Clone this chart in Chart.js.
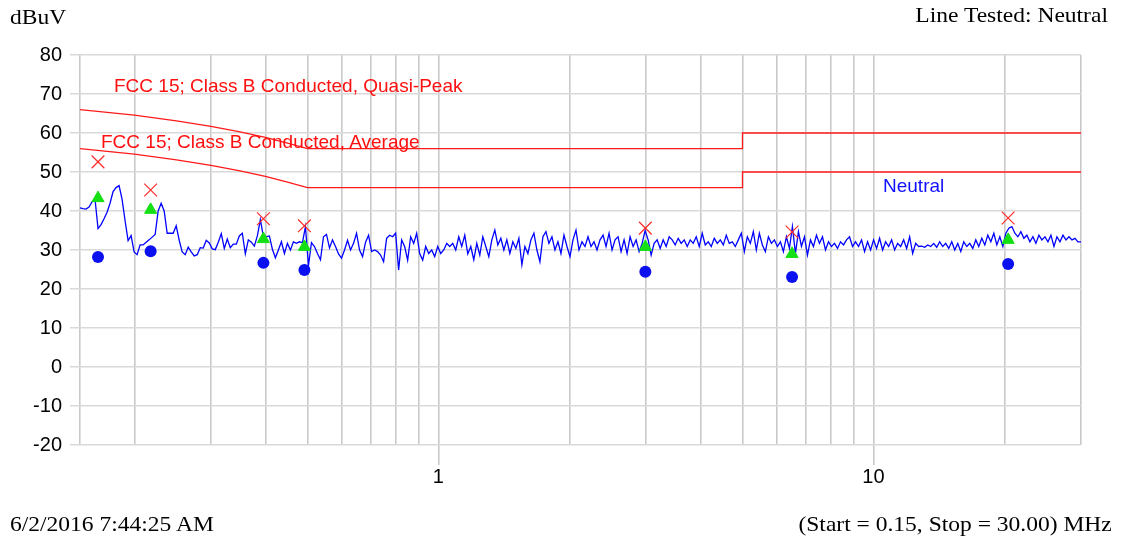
<!DOCTYPE html>
<html>
<head>
<meta charset="utf-8">
<script src="https://cdn.jsdelivr.net/npm/chart.js@4.4.1/dist/chart.umd.min.js"></script>
<style>
  html, body { margin: 0; padding: 0; background: #fff; }
  #wrap { position: relative; width: 1121px; height: 540px; overflow: hidden; }
  #chart { position: absolute; left: 0; top: 0; }
  .serif { position: absolute; font-family: "Liberation Serif", "Times New Roman", serif; font-size: 21px; line-height: 21px; color: #000; white-space: nowrap; }
  .lbl { position: absolute; font-family: "Liberation Sans", Arial, sans-serif; font-size: 19px; line-height: 19px; white-space: nowrap; }
</style>
</head>
<body>
<div id="wrap">
  <canvas id="chart" width="1121" height="540"></canvas>
  <div class="serif" style="left:10px; top:7px; transform:scaleX(1.12); transform-origin:left center;">dBuV</div>
  <div class="serif" style="right:13px; top:5px; transform:scaleX(1.12); transform-origin:right center;">Line Tested: Neutral</div>
  <div class="serif" style="left:10px; top:514px; transform:scaleX(1.12); transform-origin:left center;">6/2/2016 7:44:25 AM</div>
  <div class="serif" style="right:9px; top:514px; transform:scaleX(1.12); transform-origin:right center;">(Start = 0.15, Stop = 30.00) MHz</div>
  <div class="lbl" style="left:114px; top:76px; color:#ff1010;">FCC 15; Class B Conducted, Quasi-Peak</div>
  <div class="lbl" style="left:101px; top:132px; color:#ff1010;">FCC 15; Class B Conducted, Average</div>
  <div class="lbl" style="left:883px; top:176px; color:#1010ff;">Neutral</div>
</div>
<script>
// ---- data ----
const sweepStartMHz = 0.15;
const sweepStopMHz = 30;

const freqGridTicks = [0.15, 0.2, 0.3, 0.4, 0.5, 0.6, 0.7, 0.8, 0.9, 1, 2, 3, 4, 5, 6, 7, 8, 9, 10, 20, 30];
const labelledFreqTicks = [1, 10];
const levelTicks = [-20, -10, 0, 10, 20, 30, 40, 50, 60, 70, 80];

// Neutral line scan, dBuV, points spread evenly (log) from start to stop
const neutralLevel = [
  40.8,40.6,40.5,41.0,42.3,43.0,35.5,36.5,38.0,39.7,
  42.0,45.0,46.0,46.5,43.0,37.5,32.4,33.7,29.5,28.8,
  31.3,31.3,32.0,32.6,33.3,34.0,40.0,42.0,40.0,34.3,
  34.3,34.3,36.2,32.5,29.5,28.8,30.7,29.5,28.5,28.8,
  30.6,30.5,32.5,31.8,30.3,30.1,32.0,34.2,30.4,32.8,
  30.6,31.5,31.5,33.6,34.3,29.0,32.6,32.0,31.0,33.6,
  37.8,33.5,33.4,33.6,30.2,28.0,30.0,
  32.1,29.1,31.7,30.0,32.1,31.7,32.1,31.9,36.0,26.0,
  31.9,30.9,29.1,27.5,33.4,34.0,30.5,32.6,30.9,29.0,
  27.9,30.0,32.5,30.0,31.7,34.3,30.0,28.3,32.0,33.8,
  29.6,30.0,29.6,28.7,27.0,33.0,33.8,33.4,34.3,24.9,
  32.6,30.9,27.4,33.4,31.7,34.3,29.1,27.4,30.9,29.1,
  30.0,28.3,30.9,29.1,30.0,31.7,30.9,31.7,30.0,33.4,
  30.9,33.8,29.0,30.9,27.5,
  31.7,28.7,33.4,30.9,28.3,32.6,35.1,31.3,33.0,30.0,
  32.6,29.1,32.1,30.4,33.0,26.2,30.9,29.1,32.6,34.3,
  30.0,27.0,33.4,34.7,31.7,33.4,30.0,32.1,29.1,33.8,
  30.9,28.3,32.6,35.1,30.0,32.1,30.9,33.4,30.9,32.1,
  30.0,32.6,33.8,30.9,34.3,30.0,32.6,33.4,29.6,32.6,
  29.1,33.4,30.9,32.6,29.6,31.7,35.0,32.6,28.7,31.7,
  32.6,30.4,32.6,30.9,33.4,
  32.6,31.3,33.0,31.7,32.6,30.9,32.6,31.7,33.4,30.9,
  34.3,31.3,32.1,30.9,33.0,31.7,32.6,31.3,33.8,31.7,
  32.1,30.9,32.6,34.3,29.6,33.4,31.7,34.7,30.0,34.3,
  31.3,29.6,33.4,31.7,32.6,30.9,32.1,29.6,33.4,30.4,
  36.0,29.1,34.7,30.9,33.4,28.7,32.6,30.9,33.8,31.7,
  33.4,30.0,32.1,30.9,31.7,30.4,32.1,31.3,32.6,33.4,
  30.9,32.1,30.9,32.6,29.6,
  32.1,30.0,32.6,30.4,33.0,30.0,32.1,30.9,32.6,30.0,
  31.7,30.9,32.6,30.4,33.4,29.1,31.7,30.9,31.0,30.7,
  31.3,30.9,31.7,30.7,32.1,30.9,31.7,30.4,32.1,30.0,
  31.7,29.6,32.1,30.9,31.7,30.4,32.6,30.9,33.0,31.3,
  33.8,32.1,34.3,31.3,33.4,30.9,34.3,35.6,36.0,34.3,
  33.4,34.7,33.0,33.8,32.1,33.4,31.7,33.8,32.6,33.4,
  32.1,33.8,30.9,33.4,32.1,33.8,32.6,33.4,32.6,33.0,
  32.1,32.1
];

// FCC 15 Class B limit lines
const limitFreqMHz   = [0.15, 0.2, 0.25, 0.3, 0.35, 0.4, 0.45, 0.5, 5, 5, 30];
const qpLimitLevel   = [66, 64.6, 63.1, 61.7, 60.3, 58.9, 57.4, 56, 56, 60, 60];
const avgLimitLevel  = [56, 54.6, 53.1, 51.7, 50.3, 48.9, 47.4, 46, 46, 50, 50];

// Measured emissions
const markerFreqMHz  = [0.165, 0.218, 0.396, 0.492, 2.99, 6.50, 20.4];
const peakReading    = [52.6, 45.4, 38.0, 36.2, 35.6, 34.6, 38.2];
const qpReading      = [43.3, 40.3, 32.8, 30.8, 30.8, 29.0, 32.6];
const avgReading     = [28.2, 29.7, 26.7, 24.9, 24.4, 23.1, 26.4];

// ---- build chart ----
const nPts = neutralLevel.length;
const neutralData = neutralLevel.map((v, i) => ({
  x: sweepStartMHz * Math.pow(sweepStopMHz / sweepStartMHz, i / (nPts - 1)),
  y: v
}));
const zip = (xs, ys) => xs.map((x, i) => ({ x: x, y: ys[i] }));

const gridX = '#c9c9c9';
const gridY = '#d9d9d9';

new Chart(document.getElementById('chart'), {
  type: 'line',
  data: {
    datasets: [
      { label: 'Peak', data: zip(markerFreqMHz, peakReading), showLine: false,
        pointStyle: 'crossRot', pointRadius: 9, borderColor: '#ff2a2a', borderWidth: 1.2, order: 1 },
      { label: 'Quasi-Peak', data: zip(markerFreqMHz, qpReading), showLine: false,
        pointStyle: 'triangle', pointRadius: 7, backgroundColor: '#14e014', borderColor: '#14e014', borderWidth: 1, order: 2 },
      { label: 'Average', data: zip(markerFreqMHz, avgReading), showLine: false,
        pointStyle: 'circle', pointRadius: 6, backgroundColor: '#0a10f0', borderColor: '#0a10f0', borderWidth: 0, order: 3 },
      { label: 'Neutral', data: neutralData, borderColor: '#0000ff', borderWidth: 1.3,
        pointRadius: 0, tension: 0, order: 4 },
      { label: 'QP limit', data: zip(limitFreqMHz, qpLimitLevel), borderColor: '#ff1a1a', borderWidth: 1.3,
        pointRadius: 0, tension: 0, order: 5 },
      { label: 'Avg limit', data: zip(limitFreqMHz, avgLimitLevel), borderColor: '#ff1a1a', borderWidth: 1.3,
        pointRadius: 0, tension: 0, order: 6 }
    ]
  },
  options: {
    responsive: false,
    animation: false,
    devicePixelRatio: 1,
    layout: { padding: { top: 55, right: 40, bottom: 0, left: 0 } },
    plugins: { legend: { display: false }, tooltip: { enabled: false } },
    scales: {
      x: {
        type: 'logarithmic',
        min: sweepStartMHz,
        max: sweepStopMHz,
        afterBuildTicks: (s) => { s.ticks = freqGridTicks.map(v => ({ value: v })); },
        afterFit: (s) => { s.height = 95; },
        border: { display: false },
        grid: {
          color: gridX, lineWidth: 1.6, tickLength: 20,
          tickColor: (ctx) => (ctx.tick && labelledFreqTicks.includes(ctx.tick.value)) ? gridX : 'rgba(0,0,0,0)'
        },
        ticks: {
          autoSkip: false, maxRotation: 0, minRotation: 0, padding: 0, color: '#000',
          font: { family: 'Liberation Sans, Arial, sans-serif', size: 20 },
          callback: (v) => labelledFreqTicks.includes(v) ? String(v) : ''
        }
      },
      y: {
        min: -20,
        max: 80,
        afterBuildTicks: (s) => { s.ticks = levelTicks.map(v => ({ value: v })); },
        afterFit: (s) => { s.width = 80; },
        border: { display: false },
        grid: { color: gridY, lineWidth: 1.5, tickLength: 10 },
        ticks: {
          padding: 8, color: '#000',
          font: { family: 'Liberation Sans, Arial, sans-serif', size: 20 }
        }
      }
    }
  }
});
</script>
</body>
</html>
